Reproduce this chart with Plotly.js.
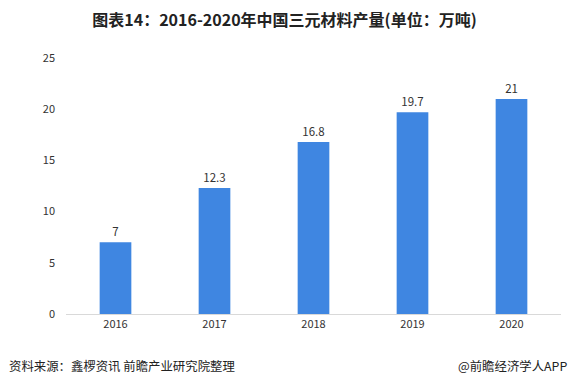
<!DOCTYPE html>
<html><head><meta charset="utf-8">
<script src="https://cdn.plot.ly/plotly-3.0.1.min.js"></script>
<style>html,body{margin:0;padding:0;background:#fff}#c{width:569px;height:388px}</style>
</head><body><div id="c"></div>
<script>
const years = ['2016','2017','2018','2019','2020'];
const output = [7, 12.3, 16.8, 19.7, 21];
const labels = ['7','12.3','16.8','19.7','21'];
const yTicks = [0,5,10,15,20,25];

const font = '"Microsoft YaHei","Noto Sans CJK SC",sans-serif';
Plotly.newPlot('c', [{
  type: 'bar', x: years, y: output,
  marker: {color: '#3f86e1'},
  text: labels, textposition: 'outside',
  textfont: {size: 11.5, color: '#333', family: font},
  cliponaxis: false, hoverinfo: 'none'
}], {
  width: 569, height: 388,
  margin: {l: 66, r: 8, t: 58, b: 74},
  paper_bgcolor: '#fff', plot_bgcolor: '#fff',
  bargap: 0.68,
  showlegend: false,
  title: {text: '<b>图表14：2016-2020年中国三元材料产量(单位：万吨)</b>', xref: 'container', x: 0.5, xanchor: 'center', y: 0.948, yanchor: 'middle',
    font: {size: 16, color: '#222', family: font}},
  xaxis: {type: 'category', showgrid: false, showline: true, linecolor: '#d9d9d9', linewidth: 1,
    ticks: '', tickfont: {size: 11, color: '#333', family: font}, zeroline: false},
  yaxis: {range: [0, 25], tickvals: yTicks, showgrid: false, showline: false, zeroline: false,
    ticks: '', ticklabelstandoff: 10, tickfont: {size: 11, color: '#333', family: font}},
  annotations: [
    {text: '资料来源：鑫椤资讯 前瞻产业研究院整理', xref: 'paper', yref: 'paper', x: 0, y: 0, xshift: -59, yshift: -52,
      xanchor: 'left', yanchor: 'middle', showarrow: false, font: {size: 12.4, color: '#222', family: font}},
    {text: '@前瞻经济学人APP', xref: 'paper', yref: 'paper', x: 1, y: 0, xshift: 8, yshift: -52,
      xanchor: 'right', yanchor: 'middle', showarrow: false, font: {size: 12.4, color: '#222', family: font}}
  ]
}, {staticPlot: true});
</script></body></html>
